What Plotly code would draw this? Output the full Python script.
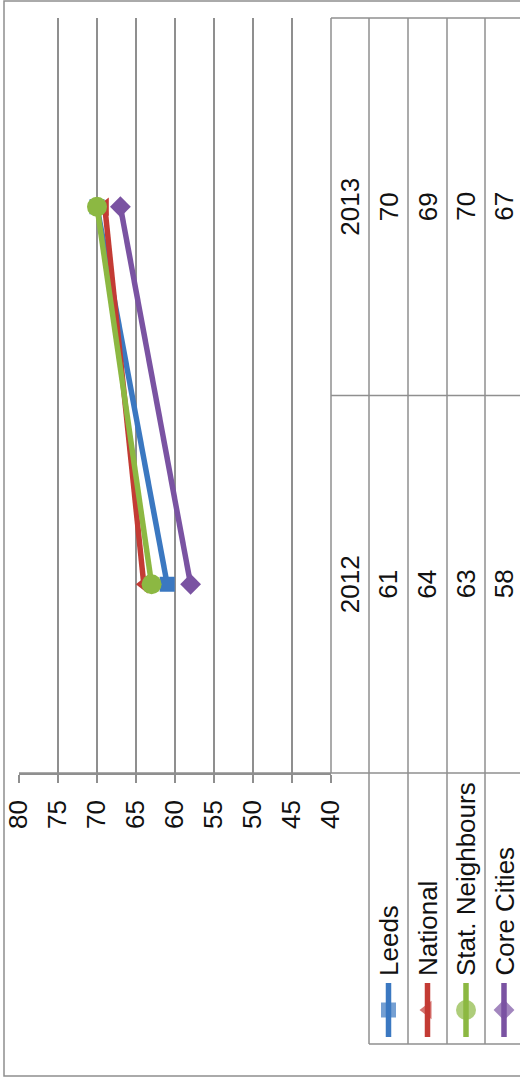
import plotly.graph_objects as go

# ---------------- data ----------------
years = ["2012", "2013"]
series_names = ["Leeds", "National", "Stat. Neighbours", "Core Cities"]
leeds = [61, 70]
national = [64, 69]
stat_neighbours = [63, 70]
core_cities = [58, 67]
value_ticks = [40, 45, 50, 55, 60, 65, 70, 75, 80]

# ---------------- styles ----------------
W, H = 520, 1079
colors = ["#3b78c1", "#c33b34", "#8cb842", "#7a53a2"]
symbols = ["square", "triangle-left", "circle", "diamond"]
msizes = [15, 16, 20, 16]
grid_c = "#8f8f8f"
TXT = "#111111"
FONT = "Liberation Sans, Arial, sans-serif"
FS = 26

def px(x):
    return x / W

def py(y):
    return 1 - y / H

plot_left, plot_right = 19, 331
plot_top, plot_bottom = 18, 773
col_edges = [331, 369, 408, 447, 485, 560]
col_centers = [(col_edges[i] + col_edges[i + 1]) / 2 for i in range(4)] + [504]
table_bottom = 1044

fig = go.Figure()
all_vals = [leeds, national, stat_neighbours, core_cities]
for name, vals, c, s, ms in zip(series_names, all_vals, colors, symbols, msizes):
    fig.add_trace(go.Scatter(
        x=vals, y=years, mode="lines+markers", name=name,
        line=dict(color=c, width=5.5),
        marker=dict(symbol=s, size=ms, color=c, line=dict(width=0)),
        showlegend=False, xaxis="x", yaxis="y"))

# legend keys (overlay pixel axes)
for i, (c, s, ms) in enumerate(zip(colors, symbols, msizes)):
    cx = col_centers[i + 1]
    fig.add_trace(go.Scatter(
        x=[cx, cx, cx], y=[983, 1010, 1037], mode="lines+markers",
        line=dict(color=c, width=5.5),
        marker=dict(symbol=s, size=[0, ms, 0], color=c, line=dict(width=0)),
        showlegend=False, hoverinfo="skip", xaxis="x2", yaxis="y2"))

shapes = []
def hline(y, x0, x1):
    shapes.append(dict(type="line", xref="paper", yref="paper",
                       x0=px(x0), x1=px(x1), y0=py(y), y1=py(y),
                       line=dict(color=grid_c, width=1.5)))
def vline(x, y0, y1):
    shapes.append(dict(type="line", xref="paper", yref="paper",
                       x0=px(x), x1=px(x), y0=py(y0), y1=py(y1),
                       line=dict(color=grid_c, width=1.5)))

# outer border
shapes.append(dict(type="rect", xref="paper", yref="paper",
                   x0=px(4), x1=px(540), y0=py(1), y1=py(1076),
                   line=dict(color=grid_c, width=1.5)))
# table
hline(plot_top, 331, 540)
shapes.append(dict(type="line", xref="paper", yref="y", x0=px(331), x1=px(540),
                   y0=0.5, y1=0.5, line=dict(color=grid_c, width=1.5)))
hline(plot_bottom, plot_left, 540)
hline(table_bottom, 369, 540)
vline(331, plot_top, plot_bottom)
for xe in col_edges[1:5]:
    vline(xe, plot_top, table_bottom)

annotations = []
for j, yr in enumerate(years):
    annotations.append(dict(text=yr, x=px(col_centers[0]), xref="paper", y=j, yref="y",
                            showarrow=False, textangle=-90, xanchor="center", yanchor="middle",
                            font=dict(family=FONT, size=FS, color=TXT)))
for i, vals in enumerate(all_vals):
    for j, v in enumerate(vals):
        annotations.append(dict(text=str(v), x=px(col_centers[i + 1]), xref="paper", y=j, yref="y",
                                showarrow=False, textangle=-90, xanchor="center", yanchor="middle",
                                font=dict(family=FONT, size=FS, color=TXT)))
for i, name in enumerate(series_names):
    annotations.append(dict(text=name, x=px(col_centers[i + 1]), xref="paper", y=py(978), yref="paper",
                            showarrow=False, textangle=-90, xanchor="center", yanchor="bottom",
                            font=dict(family=FONT, size=FS, color=TXT)))

fig.update_layout(
    template="none",
    width=W, height=H, margin=dict(l=0, r=0, t=0, b=0, pad=0, autoexpand=False),
    paper_bgcolor="white", plot_bgcolor="rgba(0,0,0,0)",
    xaxis=dict(domain=[px(plot_left), px(plot_right)], range=[80, 40], automargin=False,
               tickvals=value_ticks, showgrid=True, gridcolor=grid_c, gridwidth=1.5,
               zeroline=False, showline=True, linecolor=grid_c, linewidth=1.5,
               ticks="outside", ticklen=8, tickcolor=grid_c, tickwidth=1.5,
               tickangle=-90, ticklabelstandoff=7,
               tickfont=dict(family=FONT, size=FS, color=TXT)),
    yaxis=dict(domain=[py(plot_bottom), py(plot_top)], type="category", automargin=False,
               categoryarray=years, range=[-0.5, 1.5], showticklabels=False,
               showgrid=False, zeroline=False, showline=False, ticks=""),
    xaxis2=dict(domain=[0, 1], range=[0, W], visible=False, anchor="y2", automargin=False),
    yaxis2=dict(domain=[0, 1], range=[H, 0], visible=False, anchor="x2", automargin=False),
    shapes=shapes, annotations=annotations,
)
fig.write_html("out.html", config={"displayModeBar": False},
               post_script="document.body.style.margin='0';")
